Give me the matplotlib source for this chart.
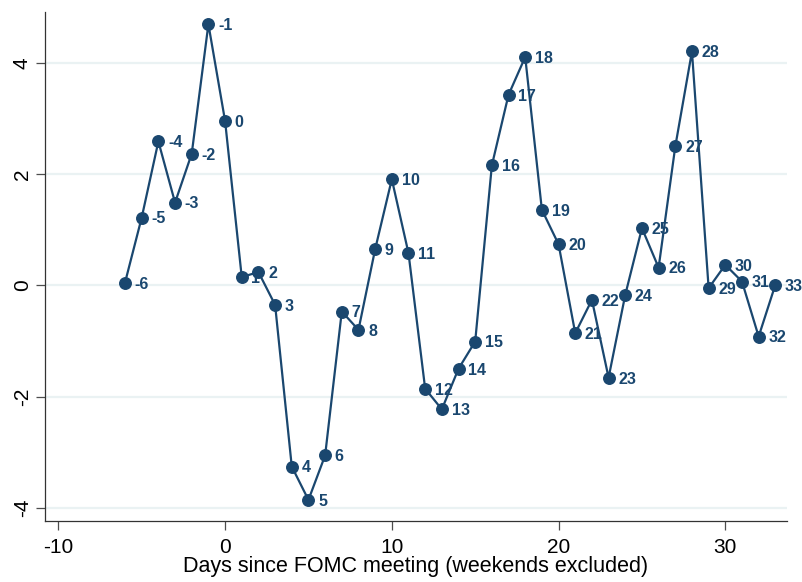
import numpy as np
import matplotlib.pyplot as plt

plt.rcParams['font.family'] = ['Liberation Sans', 'DejaVu Sans']
plt.rcParams['axes.unicode_minus'] = False

# trading days relative to the FOMC meeting and the plotted series
days = np.arange(-6, 34)
values = [0.05, 1.22, 2.59, 1.49, 2.37, 4.70, 2.96, 0.15, 0.24, -0.35,
          -3.26, -3.86, -3.06, -0.47, -0.80, 0.65, 1.91, 0.58, -1.86, -2.23,
          -1.50, -1.01, 2.16, 3.43, 4.11, 1.36, 0.74, -0.86, -0.26, -1.66,
          -0.17, 1.03, 0.32, 2.50, 4.21, -0.05, 0.37, 0.07, -0.92, 0.01]
xticks = [-10, 0, 10, 20, 30]
yticks = [-4, -2, 0, 2, 4]

navy = '#1a476f'

fig = plt.figure(figsize=(8.02, 5.82), dpi=100)
ax = fig.add_axes([0.0561, 0.1048, 0.9252, 0.8746])

for y in yticks:
    ax.axhline(y, color='#eaf2f3', lw=1.6, zorder=0)

ax.plot(days, values, color=navy, lw=1.6, marker='o', markersize=8.3,
        markerfacecolor=navy, markeredgecolor=navy, zorder=3)

for d, v in zip(days, values):
    ax.annotate(str(d), (d, v), xytext=(7, -1), textcoords='offset points',
                ha='left', va='center', fontsize=11.5, fontweight='bold',
                color=navy, zorder=4)

ax.set_xlim(-10.8, 33.7)
ax.set_ylim(-4.24, 4.92)
ax.set_xticks(xticks)
ax.set_yticks(yticks)
ax.tick_params(axis='both', direction='out', length=6.5, width=0.9,
               color='0.3', labelsize=15, pad=3)
ax.tick_params(axis='x', pad=6)
ax.tick_params(axis='y', labelrotation=90)
for lab in ax.get_yticklabels():
    lab.set_va('center')

for side in ['top', 'right']:
    ax.spines[side].set_visible(False)
for side in ['left', 'bottom']:
    ax.spines[side].set_color('0.2')
    ax.spines[side].set_linewidth(0.9)

ax.set_xlabel('Days since FOMC meeting (weekends excluded)', fontsize=15.5,
              labelpad=-1)

fig.savefig('out.png', dpi=100)
